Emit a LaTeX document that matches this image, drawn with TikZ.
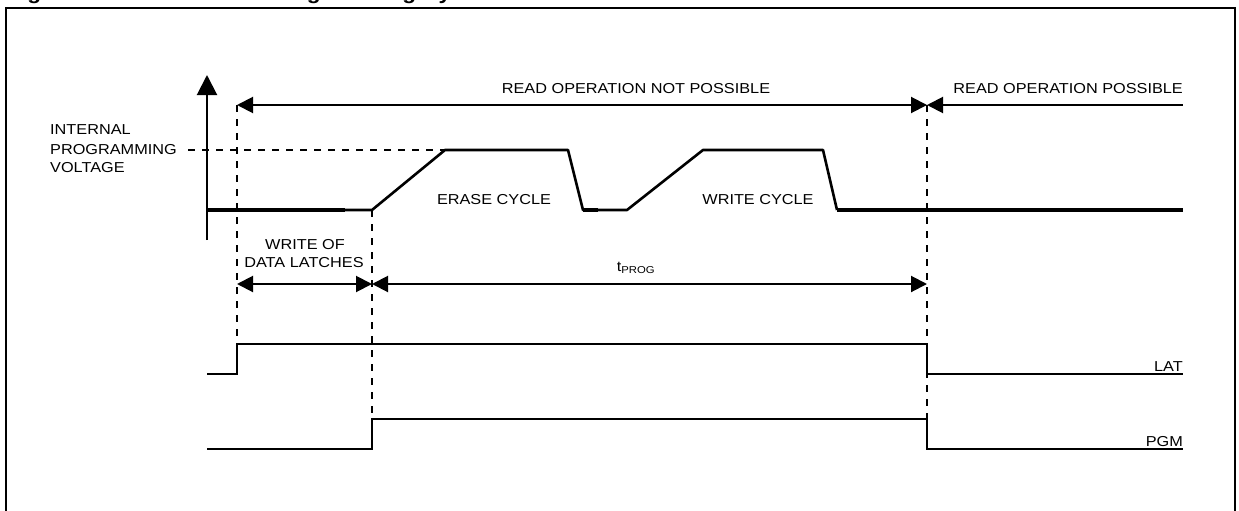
\documentclass[tikz,border=0pt]{standalone}
\usepackage{fontspec}
\setmainfont{Liberation Sans}[FakeStretch=1.13]
\usetikzlibrary{arrows.meta}
\tikzset{
  lbl/.style={inner sep=0pt, font=\fontsize{14.4}{17}\selectfont},
  sig/.style={line width=2.5pt, line join=miter},
  volt/.style={line width=2.6pt, line join=round},
  voltthick/.style={line width=4pt},
  dsh/.style={line width=2pt, dash pattern=on 7pt off 7pt},
  dim/.style={line width=2pt, {Triangle[length=16pt,width=16pt]}-{Triangle[length=16pt,width=16pt]}},
  dimleft/.style={line width=2pt, {Triangle[length=16pt,width=16pt]}-},
}
\begin{document}
\begin{tikzpicture}[x=1pt,y=-1pt]
\useasboundingbox (0,0) rectangle (1239,511);
\begin{scope}
\clip (0,0) rectangle (1239,511);
% title (cut off at the top)
\node[anchor=base west, inner sep=0pt, font=\fontsize{20}{22}\bfseries\selectfont] (title) at (7,0) {Figure 9. Data EEPROM Programming Cycle};
% frame
\draw[line width=2pt] (6,530) -- (6,8) -- (1235,8) -- (1235,530);
\end{scope}

% key coordinates
\coordinate (ax0) at (207,240);
\coordinate (ax1) at (207,75);
\coordinate (t0) at (237,105);
\coordinate (t1) at (927,105);
\coordinate (t2) at (1183,105);
\coordinate (m0) at (237,284);
\coordinate (m1) at (372,284);
\coordinate (m2) at (927,284);

% axis
\draw[line width=2pt, -{Triangle[length=20pt,width=20pt]}] (ax0) -- (ax1);

% dashed guides
\coordinate (d0a) at (237,105); \coordinate (d0b) at (237,345);
\coordinate (d1a) at (372,210); \coordinate (d1b) at (372,419);
\coordinate (d2a) at (927,105); \coordinate (d2b) at (927,419);
\coordinate (h0) at (188,150); \coordinate (h1) at (445,150);
\draw[dsh] (d0a) -- (d0b);
\draw[dsh] (d1a) -- (d1b);
\draw[dsh] (d2a) -- (d2b);
\draw[dsh] (h0) -- (h1);

% top arrows
\draw[dim] (t0) -- (t1);
\draw[dimleft] (t1) -- (t2);
\node[lbl] (rnp) at (636,89) {READ OPERATION NOT POSSIBLE};
\node[lbl, anchor=east] (rp) at (1183,89) {READ OPERATION POSSIBLE};

% voltage label
\node[lbl, anchor=west] (v1) at (50,130) {INTERNAL};
\node[lbl, anchor=west] (v2) at (50,150) {PROGRAMMING};
\node[lbl, anchor=west] (v3) at (50,168) {VOLTAGE};

% voltage waveform
\draw[voltthick] (207,210) -- (345,210);
\draw[volt] (345,210) -- (372,210) -- (445,150) -- (568,150) -- (583,210) -- (598,210);
\draw[voltthick] (583,210) -- (598,210);
\draw[volt] (598,210) -- (627,210) -- (703,150) -- (823,150) -- (837,210);
\draw[voltthick] (837,210) -- (1183,210);
\node[lbl] (erase) at (494,200) {ERASE CYCLE};
\node[lbl] (write) at (758,200) {WRITE CYCLE};

% middle arrows
\draw[dim] (m0) -- (m1);
\draw[dim] (m1) -- (m2);
\node[lbl] (wo1) at (305,245) {WRITE OF};
\node[lbl] (wo2) at (304,263) {DATA LATCHES};
\node[lbl] (tprog) at (636,268) {t\textsubscript{PROG}};

% LAT
\draw[sig] (207,374) -- (237,374) -- (237,344) -- (927,344) -- (927,374) -- (1183,374);
\node[lbl, anchor=south east] (lat) at (1183,372) {LAT};
% PGM
\draw[sig] (207,449) -- (372,449) -- (372,419) -- (927,419) -- (927,449) -- (1183,449);
\node[lbl, anchor=south east] (pgm) at (1183,447) {PGM};
\end{tikzpicture}
\end{document}
